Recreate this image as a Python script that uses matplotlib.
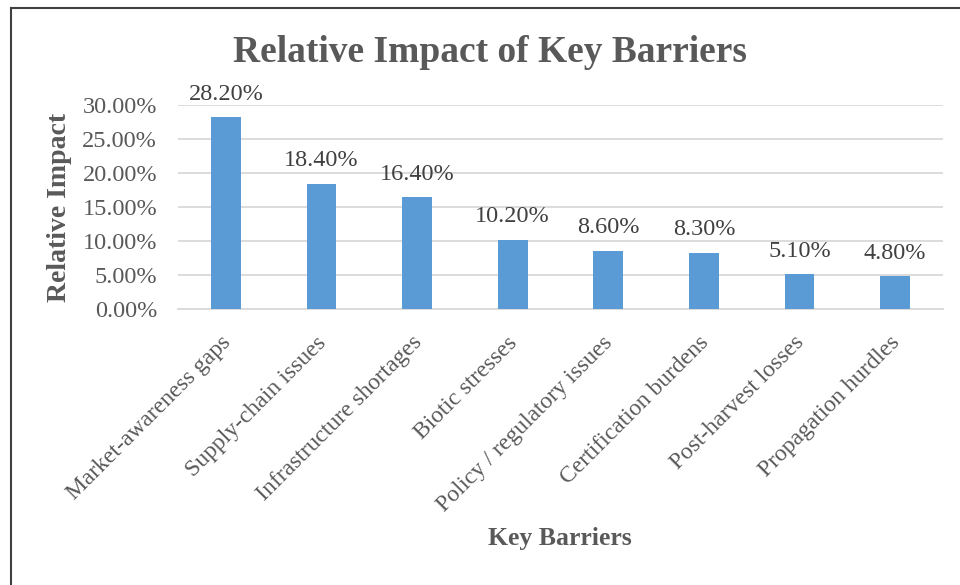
import matplotlib
matplotlib.use("Agg")
import matplotlib.pyplot as plt
from matplotlib.lines import Line2D
from matplotlib.ticker import FuncFormatter, MultipleLocator
from matplotlib.transforms import ScaledTranslation

categories = ["Market-awareness gaps", "Supply-chain issues", "Infrastructure shortages",
              "Biotic stresses", "Policy / regulatory issues", "Certification burdens",
              "Post-harvest losses", "Propagation hurdles"]
values = [0.282, 0.184, 0.164, 0.102, 0.086, 0.083, 0.051, 0.048]
value_labels = ["28.20%", "18.40%", "16.40%", "10.20%", "8.60%", "8.30%", "5.10%", "4.80%"]

plt.rcParams['font.family'] = ['Liberation Serif', 'DejaVu Serif']
TXT = '#595959'

fig = plt.figure(figsize=(9.6, 5.85), dpi=100)
ax = fig.add_axes([178/960, 1 - 309/585, (943 - 178)/960, (309 - 105)/585])

x = list(range(len(categories)))
ax.bar(x, values, width=0.31, color='#5B9BD5', zorder=3)
ax.set_xlim(-0.5, len(categories) - 0.5)
ax.set_ylim(0, 0.30)
ax.yaxis.set_major_locator(MultipleLocator(0.05))
ax.yaxis.set_major_formatter(FuncFormatter(lambda v, p: f"{v*100:.2f}%"))
ax.grid(axis='y', color='#D9D9D9', linewidth=1.3, zorder=0)
for s in ['top', 'right', 'left']:
    ax.spines[s].set_visible(False)
ax.spines['bottom'].set_color('#D9D9D9')
ax.spines['bottom'].set_linewidth(1.3)
ax.tick_params(axis='both', length=0, labelsize=17.5, colors=TXT)
ax.tick_params(axis='y', pad=15)
ax.set_xticks(x)
ax.set_xticklabels(categories, rotation=45, ha='right', rotation_mode='anchor', fontsize=17, color=TXT)
ax.tick_params(axis='x', pad=8)
off = ScaledTranslation(-6/100, -12/100, fig.dpi_scale_trans)
for lab in ax.get_xticklabels():
    lab.set_transform(lab.get_transform() + off)

for xi, v, lab in zip(x, values, value_labels):
    ax.annotate(lab, (xi, v), xytext=(0, 9), textcoords='offset points',
                ha='center', va='bottom', fontsize=17.5, color='#404040')

ax.set_ylabel("Relative Impact", fontsize=20, fontweight='bold', color=TXT)
ax.yaxis.set_label_coords(60/960, 0.5 * (2 - (105 + 309) / 585), transform=fig.transFigure)
ax.set_xlabel("Key Barriers", fontsize=18.5, fontweight='bold', color=TXT)
ax.xaxis.set_label_coords(560/960, 1 - 538/585, transform=fig.transFigure)
ax.xaxis.label.set_va('center')
ax.yaxis.label.set_va('center')

fig.text(490/960, 1 - 52/585, "Relative Impact of Key Barriers", ha='center', va='center',
         fontsize=27, fontweight='bold', color=TXT)

# chart border (top and left visible)
fig.add_artist(Line2D([11/960, 1], [1 - 8/585, 1 - 8/585], transform=fig.transFigure, color='#404040', lw=1.5))
fig.add_artist(Line2D([11/960, 11/960], [0, 1 - 8/585], transform=fig.transFigure, color='#404040', lw=1.5))

fig.savefig("out.png", dpi=100, facecolor='white')
